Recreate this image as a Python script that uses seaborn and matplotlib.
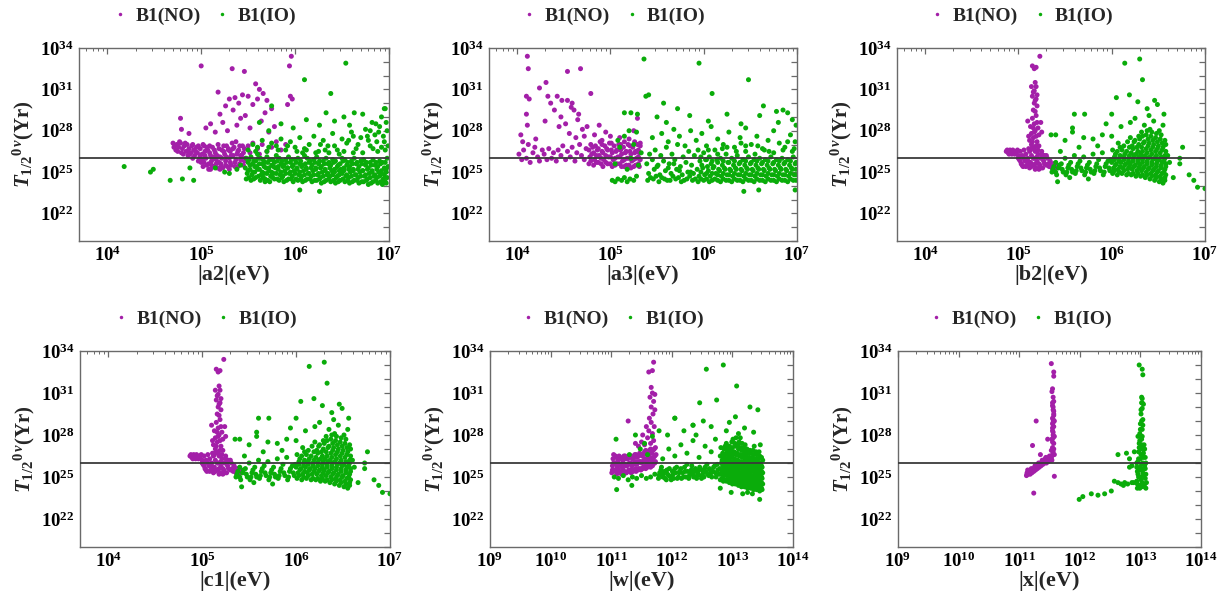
import numpy as np
import pandas as pd
import matplotlib
matplotlib.use("Agg")
import matplotlib.pyplot as plt
import seaborn as sns
from matplotlib.ticker import FixedLocator, FuncFormatter, NullFormatter
from matplotlib.lines import Line2D

# ---------------- data: (log10 parameter [eV], log10 T_1/2 [yr]) ----------------
series_labels = ["B1(NO)", "B1(IO)"]
x_labels = ["|a2|(eV)", "|a3|(eV)", "|b2|(eV)", "|c1|(eV)", "|w|(eV)", "|x|(eV)"]
y_tick_exps = [22, 25, 28, 31, 34]
x_tick_exps_low = [4, 5, 6, 7]
x_tick_exps_high = [9, 10, 11, 12, 13, 14]
t_limit = 1.07e26

a2_no = [
    (4.70,27.1),(4.72,26.9),(4.74,27.0),(4.73,26.6),(4.76,26.8),(4.78,27.1),(4.80,26.7),(4.79,26.4),(4.82,26.9),
    (4.84,26.5),(4.85,27.0),(4.87,26.7),(4.88,26.3),(4.90,26.9),(4.92,26.6),(4.93,26.2),(4.95,26.8),(4.96,26.4),
    (4.98,26.0),(4.99,26.7),(5.00,25.7),(5.01,26.3),(5.02,25.4),(5.03,26.9),(5.05,26.0),(5.06,25.5),(5.07,26.6),
    (5.08,25.2),(5.10,26.2),(5.11,25.8),(5.12,26.8),(5.13,25.4),(5.15,26.4),(5.16,25.9),(5.17,25.3),(5.18,27.0),
    (5.20,26.1),(5.21,25.6),(5.22,26.6),(5.23,25.3),(5.25,26.3),(5.26,25.8),(5.27,26.9),(5.28,25.4),(5.30,26.0),
    (5.31,26.5),(5.32,25.5),(5.34,26.2),(5.35,26.8),(5.36,25.7),(5.38,26.3),(5.39,25.4),(5.40,26.6),(5.42,25.9),
    (5.43,26.2),(5.45,25.5),(5.46,26.7),(5.47,26.0),(4.97,25.8),(5.04,26.5),(5.09,26.9),(5.14,26.1),(5.19,25.7),
    (5.24,26.9),(5.29,26.7),(5.33,27.1),(5.37,27.2),(5.41,26.9),(4.91,26.0),(4.86,26.2),(5.02,27.0),
    (5.50,26.9),(5.55,27.1),(5.60,26.7),(5.65,27.0),(5.70,26.5),(5.75,26.8),(5.80,27.2),(5.85,26.6),(5.90,27.0),
    (5.52,26.4),(5.62,26.3),
    (4.78,28.9),(4.79,28.1),(4.87,27.8),(5.00,32.7),(5.05,28.2),(5.10,28.5),(5.15,27.9),(5.18,30.8),(5.20,29.2),
    (5.23,28.6),(5.26,29.8),(5.28,28.0),(5.30,30.3),(5.33,32.5),(5.34,29.5),(5.36,30.4),(5.38,28.4),(5.40,30.0),
    (5.42,28.9),(5.44,30.6),(5.46,32.3),(5.47,29.1),(5.50,30.5),(5.52,28.2),(5.55,29.9),(5.58,31.4),(5.60,30.3),
    (5.62,31.0),(5.64,28.7),(5.66,30.7),(5.68,29.3),(5.70,30.2),(5.72,27.9),(5.75,29.6),(5.78,28.3),(5.92,29.9),
    (5.94,32.7),(5.96,33.4),(5.95,30.5),(5.97,30.3),
    (4.71,26.8),(4.75,26.5),(4.77,27.2),(4.81,26.3),(4.83,27.1),(4.86,26.5),(4.89,26.4),(4.91,27.0),(4.94,26.5),
    (4.97,26.9),(4.99,26.2),(5.01,25.9),(5.03,25.7),(5.04,26.2),(5.06,26.8),(5.08,25.6),(5.09,26.4),(5.11,25.5),
    (5.12,26.0),(5.14,26.6),(5.16,25.6),(5.17,26.2),(5.19,26.7),(5.21,25.4),(5.22,26.0),(5.24,26.5),(5.26,25.5),
    (5.27,26.1),(5.29,26.6),(5.31,25.7),(5.32,26.2),(5.34,26.7),(5.36,25.4),(5.37,25.9),(5.39,26.5),(5.41,25.6),
    (5.42,26.2),(5.44,26.9),(5.46,25.8),(5.45,26.4),(5.10,25.2),(5.20,25.2),(5.30,25.2),
]

a2_io = [
    (4.18,25.4),(4.46,25.0),(4.49,25.2),(4.67,24.4),(4.80,24.5),(4.92,24.4),(4.88,25.3),(5.15,25.3),(5.25,25.0),
    (5.30,24.9),(5.38,25.2),(5.42,25.5),
    (5.48,24.5),(5.49,24.9),(5.47,25.3),(5.50,25.7),(5.48,26.0),(5.53,24.4),(5.54,24.8),(5.52,25.2),(5.55,25.6),
    (5.53,26.1),(5.58,24.6),(5.57,25.0),(5.59,25.4),(5.58,25.8),(5.60,26.3),(5.63,24.4),(5.64,24.8),(5.62,25.2),
    (5.65,25.6),(5.63,26.0),(5.68,24.5),(5.67,24.9),(5.69,25.3),(5.68,25.7),(5.70,26.1),(5.73,24.3),(5.74,24.7),
    (5.72,25.1),(5.75,25.5),(5.73,25.9),(5.78,24.5),(5.77,24.9),(5.79,25.3),(5.78,25.7),(5.80,26.2),(5.83,24.4),
    (5.84,24.8),(5.82,25.2),(5.85,25.6),(5.83,26.0),(5.88,24.3),(5.87,24.7),(5.89,25.1),(5.88,25.5),(5.90,25.9),
    (5.93,24.5),(5.94,24.9),(5.92,25.3),(5.95,25.7),(5.93,26.1),(5.98,24.3),(5.97,24.7),(5.99,25.1),(5.98,25.5),
    (6.00,25.9),(6.03,24.4),(6.04,24.8),(6.02,25.2),(6.05,25.6),(6.03,26.0),(6.08,24.3),(6.07,24.7),(6.09,25.1),
    (6.08,25.5),(6.10,26.2),(6.13,24.5),(6.14,24.9),(6.12,25.3),(6.15,25.7),(6.13,26.0),(6.18,24.3),(6.17,24.7),
    (6.19,25.1),(6.18,25.5),(6.20,25.9),(6.23,24.4),(6.24,24.8),(6.22,25.2),(6.25,25.6),(6.23,26.1),(6.28,24.2),
    (6.27,24.6),(6.29,25.0),(6.28,25.4),(6.30,25.8),(6.33,24.4),(6.34,24.8),(6.32,25.2),(6.35,25.6),(6.33,26.0),
    (6.38,24.3),(6.37,24.7),(6.39,25.1),(6.38,25.5),(6.40,25.9),(6.43,24.2),(6.44,24.6),(6.42,25.0),(6.45,25.4),
    (6.43,25.8),(6.48,24.4),(6.47,24.8),(6.49,25.2),(6.48,25.6),(6.50,26.0),(6.53,24.3),(6.54,24.7),(6.52,25.1),
    (6.55,25.5),(6.53,25.9),(6.58,24.2),(6.57,24.6),(6.59,25.0),(6.58,25.4),(6.60,25.8),(6.63,24.4),(6.64,24.8),
    (6.62,25.2),(6.65,25.6),(6.63,26.0),(6.68,24.2),(6.67,24.6),(6.69,25.0),(6.68,25.4),(6.70,25.8),(6.73,24.3),
    (6.74,24.7),(6.72,25.1),(6.75,25.5),(6.73,25.9),(6.78,24.1),(6.77,24.5),(6.79,24.9),(6.78,25.3),(6.80,25.7),
    (6.83,24.3),(6.84,24.7),(6.82,25.1),(6.85,25.5),(6.83,25.9),(6.88,24.2),(6.87,24.6),(6.89,25.0),(6.88,25.4),
    (6.90,25.8),(6.93,24.1),(6.94,24.5),(6.92,24.9),(6.95,25.3),(6.93,25.7),(6.97,24.2),(6.98,24.6),(6.97,25.0),
    (6.99,25.4),(6.98,26.0),
    (5.51,24.6),(5.50,25.1),(5.52,25.5),(5.51,25.9),(5.56,24.5),(5.55,25.0),(5.57,25.4),(5.56,25.8),
    (5.61,24.7),(5.60,25.2),(5.62,25.6),(5.61,26.0),(5.66,24.6),(5.65,25.0),(5.67,25.4),(5.66,25.9),
    (5.71,24.4),(5.70,24.9),(5.72,25.3),(5.71,25.7),(5.76,24.6),(5.75,25.0),(5.77,25.4),(5.76,25.9),
    (5.81,24.5),(5.80,24.9),(5.82,25.4),(5.81,25.8),(5.86,24.6),(5.85,25.0),(5.87,25.4),(5.86,25.8),
    (5.91,24.4),(5.90,24.9),(5.92,25.3),(5.91,25.7),(5.96,24.5),(5.95,25.0),(5.97,25.4),(5.96,25.9),
    (6.01,24.5),(6.00,24.9),(6.02,25.3),(6.01,25.7),(6.06,24.5),(6.05,25.0),(6.07,25.4),(6.06,25.8),
    (6.11,24.4),(6.10,24.8),(6.12,25.2),(6.11,25.6),(6.16,24.5),(6.15,24.9),(6.17,25.3),(6.16,25.8),
    (6.21,24.4),(6.20,24.8),(6.22,25.3),(6.21,25.7),(6.26,24.5),(6.25,24.9),(6.27,25.3),(6.26,25.8),
    (6.31,24.3),(6.30,24.7),(6.32,25.1),(6.31,25.6),(6.36,24.5),(6.35,24.9),(6.37,25.3),(6.36,25.7),
    (6.41,24.4),(6.40,24.8),(6.42,25.2),(6.41,25.7),(6.46,24.3),(6.45,24.7),(6.47,25.1),(6.46,25.5),
    (6.51,24.5),(6.50,24.9),(6.52,25.3),(6.51,25.8),(6.56,24.4),(6.55,24.8),(6.57,25.2),(6.56,25.7),
    (6.61,24.3),(6.60,24.7),(6.62,25.1),(6.61,25.6),(6.66,24.4),(6.65,24.8),(6.67,25.2),(6.66,25.7),
    (6.71,24.3),(6.70,24.7),(6.72,25.1),(6.71,25.6),(6.76,24.4),(6.75,24.8),(6.77,25.2),(6.76,25.7),
    (6.81,24.2),(6.80,24.6),(6.82,25.0),(6.81,25.5),(6.86,24.4),(6.85,24.8),(6.87,25.2),(6.86,25.7),
    (6.91,24.3),(6.90,24.7),(6.92,25.1),(6.91,25.6),(6.96,24.3),(6.95,24.8),(6.97,25.2),(6.96,25.7),
    (5.50,26.6),(5.55,27.0),(5.60,26.8),(5.65,27.3),(5.70,26.5),(5.75,27.1),(5.80,26.9),(5.85,27.4),(5.90,26.6),
    (5.95,27.2),(6.00,26.8),(6.05,27.5),(6.10,26.7),(6.15,27.0),(6.20,27.6),(6.25,26.5),(6.30,27.3),(6.35,26.9),
    (6.40,27.8),(6.45,26.6),(6.50,27.4),(6.55,27.1),(6.60,27.9),(6.65,26.7),(6.70,27.5),(6.75,28.1),(6.80,26.9),
    (6.85,27.7),(6.90,28.3),(6.95,27.2),(6.98,28.0),(6.96,26.6),(6.88,26.5),(6.78,27.3),(6.62,26.4),(6.47,26.3),
    (6.36,26.4),(6.22,26.4),(6.08,26.4),
    (6.32,26.6),(6.42,26.9),(6.52,26.5),(6.57,27.3),(6.67,27.0),(6.72,26.4),(6.77,27.6),(6.83,26.7),(6.87,27.2),
    (6.92,26.8),(6.94,27.6),(6.99,26.9),(6.12,26.6),(6.02,26.5),(5.92,26.9),(5.82,26.6),(5.72,26.8),(5.58,26.5),
    (6.27,27.0),(6.62,27.6),(6.80,28.0),(6.97,28.6),(6.89,27.9),
    (5.62,28.6),(5.72,28.0),(5.85,28.5),(5.98,28.2),(6.12,28.8),(6.26,28.4),(6.33,29.3),(6.42,28.7),(6.52,29.0),
    (6.58,28.4),(6.72,29.2),(6.82,28.6),(6.92,29.0),(6.96,29.6),(6.86,28.5),(5.68,24.3),(6.05,23.7),(6.26,23.6),
    (5.75,29.8),(6.10,31.7),(6.38,30.7),(6.54,32.9),(6.63,29.3),(6.95,29.6),
]

a3_no = [
    (4.02,26.3),(4.05,25.9),(4.07,26.6),(4.10,26.0),(4.12,27.0),(4.14,25.7),(4.17,26.4),(4.19,26.8),(4.22,26.1),
    (4.24,25.8),(4.27,26.6),(4.29,26.3),(4.32,25.9),(4.34,26.7),(4.37,26.0),(4.39,26.4),(4.42,25.8),(4.44,26.6),
    (4.47,26.2),(4.49,26.9),(4.52,25.9),(4.54,26.5),(4.57,26.1),(4.59,26.8),(4.62,25.8),(4.64,26.4),(4.67,27.0),
    (4.69,26.2),(4.72,25.9),(4.74,26.7),
    (4.77,25.6),(4.78,26.1),(4.77,26.6),(4.79,27.0),(4.82,25.5),(4.83,25.9),(4.82,26.4),(4.84,26.9),(4.87,25.7),
    (4.88,26.2),(4.87,26.7),(4.89,27.2),(4.92,25.4),(4.93,25.9),(4.92,26.4),(4.94,26.9),(4.97,25.6),(4.98,26.1),
    (4.97,26.6),(4.99,27.1),(5.02,25.4),(5.03,25.9),(5.02,26.4),(5.04,26.9),(5.07,25.6),(5.08,26.1),(5.07,26.6),
    (5.09,27.0),(5.12,25.4),(5.13,25.8),(5.12,26.3),(5.14,26.8),(5.17,25.5),(5.18,26.0),(5.17,26.5),(5.19,27.0),
    (5.22,25.3),(5.23,25.8),(5.22,26.3),(5.24,26.8),(5.27,25.5),(5.28,26.0),(5.27,26.5),(5.29,27.0),(5.31,25.4),
    (5.32,25.9),(5.31,26.4),(5.32,26.9),
    (4.79,25.8),(4.80,26.3),(4.81,26.8),(4.85,25.7),(4.85,26.2),(4.86,26.6),(4.90,25.6),(4.90,26.0),(4.91,26.5),
    (4.91,27.0),(4.95,25.7),(4.95,26.2),(4.96,26.7),(5.00,25.6),(5.00,26.1),(5.01,26.6),(5.01,27.1),(5.05,25.5),
    (5.05,26.0),(5.06,26.5),(5.10,25.6),(5.10,26.1),(5.11,26.6),(5.11,27.0),(5.15,25.4),(5.15,25.9),(5.16,26.4),
    (5.20,25.5),(5.20,26.0),(5.21,26.5),(5.21,26.9),(5.25,25.4),(5.25,25.9),(5.26,26.4),(5.30,25.6),(5.30,26.1),
    (5.30,26.6),(5.32,27.1),(5.26,27.2),(5.15,27.2),
    (4.11,33.4),(4.12,32.5),(4.54,32.3),(4.68,32.5),(4.24,31.1),(4.31,31.5),(4.10,30.5),(4.13,30.3),(4.04,27.7),
    (4.10,29.2),(4.11,28.4),(4.33,30.5),(4.36,30.0),(4.43,30.5),(4.48,30.2),(4.54,30.2),(4.59,30.0),(4.40,29.5),
    (4.47,29.0),(4.52,28.5),(4.61,29.5),(4.65,28.8),(4.70,28.1),(4.75,28.3),(4.79,30.7),(4.91,27.3),(5.00,27.6),
    (5.29,28.9),(4.06,27.2),(4.20,27.4),(4.30,28.7),(4.45,28.3),(4.56,27.8),(4.63,27.5),(4.72,27.6),(4.83,27.7),
    (4.88,28.4),(4.95,27.9),(5.10,27.5),(5.20,27.4),(5.25,28.0),(4.58,29.7),(4.66,29.2),
]

a3_io = [
    (5.02,24.4),(5.05,24.3),(5.08,24.5),(5.12,24.4),(5.15,24.6),(5.18,24.3),(5.21,24.5),(5.25,24.4),(5.28,24.7),
    (5.05,25.6),(5.10,26.8),(5.15,27.6),(5.18,25.2),(5.22,26.0),(5.25,27.0),(5.30,25.5),(5.33,26.4),(5.20,28.0),
    (5.08,27.3),(5.28,27.9),
    (5.40,24.4),(5.41,24.9),(5.39,25.6),(5.42,26.3),(5.46,24.5),(5.47,25.2),(5.45,25.9),(5.48,26.6),(5.52,24.3),
    (5.53,24.8),(5.51,25.5),(5.54,26.2),(5.58,24.5),(5.59,25.1),(5.57,25.8),(5.60,26.8),(5.64,24.4),(5.65,24.9),
    (5.63,25.6),(5.66,26.3),(5.70,24.5),(5.71,25.2),(5.69,25.9),(5.72,27.0),(5.76,24.3),(5.77,24.8),(5.75,25.4),
    (5.78,26.1),(5.82,24.5),(5.83,25.0),(5.81,25.7),(5.84,26.5),(5.88,24.4),(5.89,24.9),(5.87,25.5),(5.90,26.2),
    (5.94,24.3),(5.95,24.7),(5.93,25.2),(5.96,25.8),(5.94,26.6),(6.00,24.4),(6.01,24.8),(5.99,25.3),(6.02,25.9),
    (6.00,26.4),(6.06,24.3),(6.07,24.7),(6.05,25.1),(6.08,25.6),(6.06,26.1),(6.12,24.5),(6.13,24.9),(6.11,25.4),
    (6.14,25.9),(6.12,26.6),(6.18,24.3),(6.19,24.7),(6.17,25.1),(6.20,25.5),(6.18,26.0),(6.24,24.4),(6.25,24.8),
    (6.23,25.2),(6.26,25.7),(6.24,26.3),(6.30,24.3),(6.31,24.7),(6.29,25.1),(6.32,25.5),(6.30,26.0),(6.36,24.4),
    (6.37,24.8),(6.35,25.2),(6.38,25.6),(6.36,26.2),(6.42,24.3),(6.43,24.7),(6.41,25.1),(6.44,25.5),(6.42,25.9),
    (6.48,24.4),(6.49,24.8),(6.47,25.2),(6.50,25.6),(6.48,26.1),(6.54,24.3),(6.55,24.7),(6.53,25.1),(6.56,25.5),
    (6.54,25.9),(6.60,24.4),(6.61,24.8),(6.59,25.2),(6.62,25.6),(6.60,26.0),(6.66,24.3),(6.67,24.7),(6.65,25.1),
    (6.68,25.5),(6.66,25.9),(6.72,24.4),(6.73,24.8),(6.71,25.2),(6.74,25.6),(6.72,26.1),(6.78,24.3),(6.79,24.7),
    (6.77,25.1),(6.80,25.5),(6.78,25.9),(6.84,24.4),(6.85,24.8),(6.83,25.2),(6.86,25.6),(6.84,26.0),(6.90,24.3),
    (6.91,24.7),(6.89,25.1),(6.92,25.5),(6.90,25.9),(6.96,24.4),(6.97,24.8),(6.95,25.2),(6.98,25.6),(6.96,26.1),
    (5.97,24.5),(5.97,25.0),(5.98,25.5),(5.97,26.1),(6.03,24.5),(6.03,24.9),(6.04,25.4),(6.03,25.9),
    (6.09,24.4),(6.09,24.9),(6.10,25.3),(6.09,25.8),(6.15,24.4),(6.15,24.8),(6.16,25.2),(6.15,25.7),
    (6.21,24.5),(6.21,24.9),(6.22,25.3),(6.21,25.8),(6.27,24.4),(6.27,24.8),(6.28,25.2),(6.27,25.7),
    (6.33,24.5),(6.33,24.9),(6.34,25.3),(6.33,25.8),(6.39,24.4),(6.39,24.8),(6.40,25.2),(6.39,25.7),
    (6.45,24.5),(6.45,24.9),(6.46,25.3),(6.45,25.8),(6.51,24.4),(6.51,24.8),(6.52,25.2),(6.51,25.7),
    (6.57,24.5),(6.57,24.9),(6.58,25.3),(6.57,25.8),(6.63,24.4),(6.63,24.8),(6.64,25.2),(6.63,25.7),
    (6.69,24.5),(6.69,24.9),(6.70,25.3),(6.69,25.8),(6.75,24.4),(6.75,24.8),(6.76,25.2),(6.75,25.7),
    (6.81,24.5),(6.81,24.9),(6.82,25.3),(6.81,25.8),(6.87,24.4),(6.87,24.8),(6.88,25.2),(6.87,25.7),
    (6.93,24.5),(6.93,24.9),(6.94,25.3),(6.93,25.8),(6.99,24.4),(6.99,24.8),(6.99,25.2),(6.99,25.7),
    (5.43,24.6),(5.49,24.7),(5.55,24.6),(5.61,24.4),(5.67,24.7),(5.73,24.6),(5.79,24.4),(5.85,24.7),(5.91,24.5),
    (5.50,25.4),(5.62,25.3),(5.74,25.1),(5.86,25.0),(5.68,25.6),
    (6.05,26.6),(6.15,26.3),(6.25,26.8),(6.35,26.5),(6.45,26.9),(6.55,26.3),(6.65,26.6),(6.75,26.4),(6.85,26.6),
    (6.95,26.5),(6.58,26.9),(6.40,27.1),(6.90,27.2),
    (5.45,27.5),(5.55,27.8),(5.62,27.2),(5.68,28.1),(5.74,27.6),(5.80,26.9),(5.86,28.0),(5.92,27.3),(5.98,27.8),
    (6.03,26.9),(6.08,28.3),(6.15,27.4),(6.21,27.0),(6.27,27.9),(6.33,26.8),(6.39,27.5),(6.45,28.2),(6.51,27.0),
    (6.57,27.6),(6.63,26.7),(6.69,27.3),(6.75,28.0),(6.81,27.1),(6.87,26.8),(6.93,27.7),(6.98,27.2),(6.99,28.4),
    (6.97,26.7),(6.70,26.5),(6.45,26.5),(6.20,26.7),
    (5.50,29.0),(5.60,28.6),(5.85,29.1),(6.05,28.7),(6.25,29.2),(6.40,28.5),(6.60,29.1),(6.80,28.6),(6.90,29.3),
    (6.95,28.8),
    (5.36,33.2),(5.95,32.9),(6.48,31.7),(6.09,30.7),(5.38,30.5),(5.41,30.6),(5.57,30.0),(5.72,29.6),(6.64,29.8),
    (6.85,29.5),(6.78,29.4),(5.15,29.3),(5.22,29.3),(5.29,29.2),(6.43,23.6),(6.59,23.7),(6.98,23.7),
]

b2_no = [
    (4.87,26.5),(4.89,26.4),(4.91,26.6),(4.93,26.3),(4.95,26.5),(4.97,26.4),(4.99,26.6),(5.00,26.2),(5.01,25.9),
    (5.02,26.5),(5.03,25.6),(5.04,26.2),(5.05,25.4),(5.06,26.6),(5.07,25.8),(5.08,26.3),(5.09,25.5),(5.10,26.0),
    (5.11,26.7),(5.12,25.3),(5.13,25.7),(5.14,26.2),(5.15,26.8),(5.16,25.5),(5.17,26.0),(5.18,26.5),(5.19,25.3),
    (5.20,25.8),(5.21,26.3),(5.22,26.9),(5.23,25.5),(5.24,26.0),(5.25,26.5),(5.26,25.3),(5.27,25.8),(5.28,26.2),
    (5.30,25.5),(5.31,26.0),(5.33,25.4),(5.34,25.8),(5.36,25.3),(5.37,25.6),(5.39,25.4),(5.41,25.5),(5.12,26.5),
    (5.08,25.9),(5.18,25.2),(5.22,25.2),(5.14,27.0),(5.19,26.9),
    (4.88,26.6),(4.90,26.3),(4.92,26.5),(4.94,26.6),(4.96,26.3),(4.98,26.5),(5.00,26.0),(5.02,25.8),(5.04,25.5),
    (5.06,26.0),(5.08,25.4),(5.10,25.8),(5.12,25.6),(5.14,25.4),(5.16,26.0),(5.18,25.6),(5.20,26.1),(5.22,25.6),
    (5.24,25.3),(5.26,26.0),(5.28,25.6),(5.30,26.2),(5.32,25.6),(5.35,25.5),(5.38,25.6),(5.40,25.3),(5.13,26.6),
    (5.17,26.7),(5.21,26.6),(5.25,26.3),
    (5.12,27.3),(5.16,27.5),(5.20,27.2),(5.14,27.8),(5.18,28.0),(5.22,27.7),(5.13,28.3),(5.17,28.5),(5.21,28.2),
    (5.15,28.9),(5.19,29.1),(5.16,29.5),(5.20,29.8),(5.18,30.2),(5.15,30.5),(5.20,30.6),(5.17,30.9),(5.14,31.2),
    (5.19,31.2),(5.17,32.5),(5.15,32.7),(5.19,32.6),(5.23,33.4),(5.10,28.7),(5.24,28.6),(5.25,27.9),(5.11,27.6),
    (5.15,27.2),(5.19,27.6),(5.17,27.9),(5.16,28.2),(5.20,28.6),(5.18,29.4),(5.17,30.0),(5.19,30.3),(5.16,30.8),
    (5.18,31.5),
]

b2_io = [
    (5.36,25.0),(5.38,25.4),(5.41,24.8),(5.43,25.3),(5.46,25.6),(5.48,25.0),(5.51,24.8),(5.53,25.3),(5.56,25.7),
    (5.58,25.0),(5.61,24.9),(5.63,25.4),(5.66,25.8),(5.68,25.1),(5.71,24.8),(5.73,25.3),(5.76,25.7),(5.78,25.0),
    (5.81,24.9),(5.83,25.4),(5.86,25.9),(5.88,25.1),(5.91,24.8),(5.93,25.4),(5.96,25.8),(5.98,25.1),(5.40,25.7),
    (5.50,26.0),(5.60,26.2),(5.70,26.1),(5.80,26.3),(5.90,26.4),(5.55,24.6),(5.75,24.5),(5.45,26.5),(5.65,26.8),
    (5.85,26.9),
    (5.37,25.2),(5.40,25.0),(5.44,25.5),(5.47,25.2),(5.52,25.0),(5.54,25.5),(5.57,25.2),(5.62,25.1),(5.64,25.6),
    (5.67,25.3),(5.72,25.0),(5.74,25.5),(5.77,25.2),(5.82,25.1),(5.84,25.6),(5.87,25.3),(5.92,25.0),(5.94,25.6),
    (5.97,25.3),(5.99,25.9),
    (6.01,24.9),(6.02,25.3),(6.00,25.7),(6.03,26.1),(6.01,26.6),(6.06,24.8),(6.07,25.2),(6.05,25.6),(6.08,26.0),
    (6.06,26.5),(6.07,27.1),(6.11,24.9),(6.12,25.3),(6.10,25.7),(6.13,26.1),(6.11,26.6),(6.16,24.8),(6.17,25.2),
    (6.15,25.6),(6.18,26.0),(6.16,26.5),(6.17,27.2),(6.21,24.8),(6.22,25.2),(6.20,25.6),(6.23,26.0),(6.21,26.4),
    (6.22,26.9),(6.20,27.5),(6.26,24.7),(6.27,25.1),(6.25,25.5),(6.28,25.9),(6.26,26.3),(6.27,26.8),(6.25,27.3),
    (6.31,24.7),(6.32,25.1),(6.30,25.5),(6.33,25.9),(6.31,26.3),(6.32,26.8),(6.30,27.4),(6.32,27.9),(6.36,24.6),
    (6.37,25.0),(6.35,25.4),(6.38,25.8),(6.36,26.2),(6.37,26.7),(6.35,27.2),(6.37,27.7),(6.41,24.5),(6.42,24.9),
    (6.40,25.3),(6.43,25.7),(6.41,26.1),(6.42,26.6),(6.40,27.1),(6.42,27.6),(6.41,28.1),(6.46,24.4),(6.47,24.8),
    (6.45,25.2),(6.48,25.6),(6.46,26.0),(6.47,26.5),(6.45,27.0),(6.47,27.5),(6.51,24.3),(6.52,24.7),(6.50,25.1),
    (6.53,25.5),(6.51,25.9),(6.52,26.4),(6.50,26.9),(6.52,27.4),(6.51,28.0),(6.55,24.2),(6.57,24.6),(6.56,25.0),
    (6.58,25.4),(6.56,25.8),(6.57,26.2),(6.55,26.8),(6.57,27.3),
    (6.03,25.1),(6.04,25.5),(6.03,25.9),(6.04,26.3),(6.08,25.0),(6.09,25.4),(6.08,25.8),(6.09,26.2),(6.09,26.8),
    (6.13,25.1),(6.14,25.5),(6.13,25.9),(6.14,26.3),(6.13,26.9),(6.18,24.9),(6.19,25.4),(6.18,25.8),(6.19,26.2),
    (6.19,26.8),(6.23,24.9),(6.24,25.4),(6.23,25.8),(6.24,26.2),(6.23,26.7),(6.24,27.2),(6.28,24.9),(6.29,25.3),
    (6.28,25.7),(6.29,26.1),(6.28,26.5),(6.29,27.0),(6.29,27.6),(6.33,24.8),(6.34,25.3),(6.33,25.7),(6.34,26.1),
    (6.33,26.5),(6.34,27.1),(6.33,27.6),(6.38,24.8),(6.39,25.2),(6.38,25.6),(6.39,26.0),(6.38,26.4),(6.39,26.9),
    (6.39,27.4),(6.38,28.0),(6.43,24.7),(6.44,25.1),(6.43,25.5),(6.44,25.9),(6.43,26.3),(6.44,26.8),(6.44,27.3),
    (6.43,27.9),(6.48,24.6),(6.49,25.0),(6.48,25.4),(6.49,25.8),(6.48,26.2),(6.49,26.7),(6.49,27.2),(6.48,27.8),
    (6.53,24.5),(6.54,24.9),(6.53,25.3),(6.54,25.7),(6.53,26.1),(6.54,26.6),(6.54,27.1),(6.53,27.7),(6.57,24.4),
    (6.58,24.8),(6.57,25.2),(6.58,25.6),(6.57,26.0),(6.58,26.5),(6.58,27.0),
    (6.14,32.9),(6.30,33.2),(6.33,31.7),(6.19,30.6),(6.05,30.4),(6.28,30.1),(6.46,30.2),(6.49,29.9),(6.38,29.6),
    (6.00,29.2),(5.71,29.2),(5.60,29.2),(6.56,29.2),(6.40,29.1),(6.25,28.9),(5.94,28.5),(5.58,28.2),(5.58,27.9),
    (5.35,27.7),(5.40,27.7),(6.76,26.8),(6.73,26.0),(6.73,25.6),(6.83,24.8),(6.88,24.4),(6.92,23.9),(7.00,23.8),
    (6.66,24.6),(5.42,24.3),(6.10,28.3),(6.20,28.6),(6.35,28.4),(6.45,28.7),(6.55,28.4),(6.00,27.6),(5.90,27.7),
    (5.80,27.4),(5.70,27.5),(5.50,27.3),(6.60,26.2),(6.62,25.7),
]

# the |c1| panel shows the same scan points as the |b2| panel
c1_no = list(b2_no)
c1_io = list(b2_io)

w_no = [
    (11.01,25.3),(11.02,25.8),(11.03,26.3),(11.05,25.5),(11.06,26.0),(11.07,26.5),(11.09,25.2),(11.10,25.7),
    (11.11,26.2),(11.13,25.4),(11.14,25.9),(11.15,26.4),(11.17,25.2),(11.18,25.7),(11.19,26.2),(11.21,25.4),
    (11.22,25.9),(11.23,26.5),(11.25,25.3),(11.26,25.8),(11.27,26.3),(11.29,25.5),(11.30,26.0),(11.31,26.5),
    (11.33,25.3),(11.34,25.8),(11.35,26.3),(11.37,25.5),(11.38,26.0),(11.39,26.6),(11.41,25.4),(11.42,25.9),
    (11.43,26.4),(11.45,25.6),(11.46,26.1),(11.47,26.7),(11.49,25.5),(11.50,26.0),(11.51,26.5),(11.53,25.7),
    (11.54,26.2),(11.55,26.8),(11.57,25.6),(11.58,26.1),(11.59,26.6),(11.61,25.8),(11.62,26.3),(11.63,26.9),
    (11.65,25.7),(11.66,26.2),(11.67,26.7),(11.69,25.9),(11.70,26.4),(11.71,27.0),(11.73,26.1),(11.74,26.6),
    (11.02,25.5),(11.04,26.0),(11.04,26.6),(11.08,25.4),(11.08,25.9),(11.09,26.4),(11.12,25.5),(11.12,26.0),
    (11.13,26.5),(11.16,25.3),(11.16,25.8),(11.17,26.3),(11.20,25.5),(11.20,26.0),(11.21,26.5),(11.24,25.3),
    (11.24,25.8),(11.25,26.3),(11.28,25.4),(11.28,25.9),(11.29,26.4),(11.32,25.5),(11.32,26.0),(11.33,26.5),
    (11.36,25.4),(11.36,25.9),(11.37,26.4),(11.40,25.6),(11.40,26.1),(11.41,26.6),(11.44,25.5),(11.44,26.0),
    (11.45,26.5),(11.48,25.6),(11.48,26.1),(11.49,26.6),(11.52,25.6),(11.52,26.1),(11.53,26.6),(11.56,25.8),
    (11.56,26.3),(11.57,26.9),(11.60,25.7),(11.60,26.2),(11.61,26.7),(11.64,25.9),(11.64,26.4),(11.65,27.0),
    (11.68,25.8),(11.68,26.3),(11.69,26.9),(11.72,26.0),(11.72,26.5),(11.73,27.1),
    (11.45,27.2),(11.50,27.5),(11.55,27.3),(11.60,27.8),(11.65,27.4),(11.70,27.6),(11.52,28.0),(11.62,28.3),
    (11.68,28.1),(11.58,28.6),(11.66,28.9),(11.71,28.6),(11.63,29.2),(11.69,29.5),(11.72,29.8),(11.66,30.0),
    (11.70,30.4),(11.64,30.7),(11.68,31.0),(11.72,30.9),(11.66,31.4),(11.62,32.5),(11.68,32.6),(11.70,33.2),
    (11.28,29.0),(11.40,27.4),
]

w_io = [
    (11.05,25.0),(11.12,24.9),(11.20,25.1),(11.28,24.8),(11.35,25.0),(11.42,24.9),(11.50,25.1),(11.58,24.9),
    (11.65,25.0),(11.72,25.2),(11.08,27.7),(11.30,26.6),(11.48,27.0),(11.60,26.6),(11.40,28.0),(11.55,27.4),
    (11.09,24.1),(11.34,24.4),
    (11.78,24.9),(11.80,25.3),(11.83,25.7),(11.85,25.0),(11.88,25.4),(11.91,24.8),(11.93,25.2),(11.96,25.6),
    (11.98,25.0),(12.01,25.4),(12.03,24.9),(12.06,25.3),(12.08,25.7),(12.11,25.0),(12.13,25.4),(12.16,24.9),
    (12.18,25.3),(12.21,25.7),(12.23,25.0),(12.26,25.4),(12.28,24.9),(12.31,25.3),(12.33,25.8),(12.36,25.0),
    (12.38,25.4),(12.41,24.9),(12.43,25.3),(12.46,25.7),(12.48,25.1),(12.51,25.5),(12.53,25.0),(12.56,25.4),
    (12.58,25.9),(12.61,25.1),(12.63,25.5),(12.66,25.0),(12.68,25.4),(12.71,25.8),(12.73,25.0),(12.76,25.5),
    (11.79,25.1),(11.82,25.5),(11.86,25.2),(11.89,24.9),(11.92,25.5),(11.95,25.1),(11.99,24.8),(12.02,25.2),
    (12.05,25.6),(12.09,24.9),(12.12,25.3),(12.15,25.6),(12.19,25.0),(12.22,25.4),(12.25,25.9),(12.29,25.1),
    (12.32,25.5),(12.35,25.2),(12.39,25.6),(12.42,25.1),(12.45,25.5),(12.49,24.9),(12.52,25.3),(12.55,25.7),
    (12.59,25.2),(12.62,25.6),(12.65,25.3),(12.69,25.7),(12.72,25.3),(12.75,25.9),(12.78,25.2),
    (11.85,26.3),(11.95,27.0),(12.05,26.5),(12.15,27.3),(12.25,26.7),(12.35,27.6),(12.45,26.4),(12.55,27.2),
    (12.65,26.8),(12.72,27.7),(12.40,28.0),(12.20,28.3),(12.05,29.2),(12.35,28.7),(12.46,30.3),(11.68,27.9),
    (11.79,28.3),(11.93,28.0),
    (12.80,24.8),(12.81,25.2),(12.79,25.6),(12.82,26.0),(12.80,26.5),(12.81,27.1),(12.85,24.7),(12.86,25.1),
    (12.84,25.5),(12.87,25.9),(12.85,26.4),(12.86,27.0),(12.90,24.7),(12.91,25.1),(12.89,25.5),(12.92,25.9),
    (12.90,26.3),(12.91,26.8),(12.90,27.4),(12.95,24.6),(12.96,25.0),(12.94,25.4),(12.97,25.8),(12.95,26.2),
    (12.96,26.7),(12.95,27.2),(13.00,24.5),(13.01,24.9),(12.99,25.3),(13.02,25.7),(13.00,26.1),(13.01,26.6),
    (13.00,27.1),(13.01,27.7),(13.05,24.5),(13.06,24.9),(13.04,25.3),(13.07,25.7),(13.05,26.1),(13.06,26.6),
    (13.05,27.2),(13.06,27.8),(13.10,24.4),(13.11,24.8),(13.09,25.2),(13.12,25.6),(13.10,26.0),(13.11,26.5),
    (13.10,27.0),(13.11,27.5),(13.10,28.1),(13.15,24.3),(13.16,24.7),(13.14,25.1),(13.17,25.5),(13.15,25.9),
    (13.16,26.4),(13.15,26.9),(13.16,27.4),(13.20,24.3),(13.21,24.7),(13.19,25.1),(13.22,25.5),(13.20,25.9),
    (13.21,26.3),(13.20,26.8),(13.21,27.3),(13.25,24.2),(13.26,24.6),(13.24,25.0),(13.27,25.4),(13.25,25.8),
    (13.26,26.2),(13.25,26.7),(13.30,24.2),(13.31,24.6),(13.29,25.0),(13.32,25.4),(13.30,25.8),(13.31,26.2),
    (13.30,26.7),(13.35,24.1),(13.36,24.5),(13.34,24.9),(13.37,25.3),(13.35,25.7),(13.36,26.1),(13.35,26.6),
    (13.36,27.2),(13.40,24.1),(13.41,24.5),(13.39,24.9),(13.42,25.3),(13.40,25.7),(13.41,26.1),(13.40,26.6),
    (13.45,24.0),(13.46,24.4),(13.44,24.8),(13.47,25.2),(13.45,25.6),(13.46,26.0),(13.45,26.5),(13.46,27.3),
    (13.49,24.1),(13.50,24.5),(13.49,24.9),(13.50,25.3),(13.49,25.7),(13.50,26.2),
    (12.83,24.9),(12.83,25.4),(12.84,25.8),(12.83,26.2),(12.84,26.7),(12.88,24.8),(12.88,25.3),(12.89,25.7),
    (12.88,26.1),(12.89,26.6),(12.88,27.2),(12.93,24.8),(12.93,25.2),(12.94,25.6),(12.93,26.0),(12.94,26.5),
    (12.93,27.0),(12.98,24.7),(12.98,25.1),(12.99,25.5),(12.98,25.9),(12.99,26.4),(12.98,26.9),(12.99,27.5),
    (13.03,24.7),(13.03,25.1),(13.04,25.5),(13.03,25.9),(13.04,26.3),(13.03,26.8),(13.04,27.4),(13.08,24.6),
    (13.08,25.0),(13.09,25.4),(13.08,25.8),(13.09,26.2),(13.08,26.7),(13.09,27.3),(13.13,24.5),(13.13,24.9),
    (13.14,25.3),(13.13,25.7),(13.14,26.1),(13.13,26.6),(13.14,27.1),(13.13,27.8),(13.18,24.5),(13.18,24.9),
    (13.19,25.3),(13.18,25.7),(13.19,26.1),(13.18,26.6),(13.19,27.1),(13.23,24.4),(13.23,24.8),(13.24,25.2),
    (13.23,25.6),(13.24,26.0),(13.23,26.5),(13.24,27.0),(13.28,24.4),(13.28,24.8),(13.29,25.2),(13.28,25.6),
    (13.29,26.0),(13.28,26.4),(13.29,26.9),(13.33,24.3),(13.33,24.7),(13.34,25.1),(13.33,25.5),(13.34,25.9),
    (13.33,26.4),(13.34,26.9),(13.38,24.3),(13.38,24.7),(13.39,25.1),(13.38,25.5),(13.39,25.9),(13.38,26.3),
    (13.39,26.8),(13.43,24.2),(13.43,24.6),(13.44,25.0),(13.43,25.4),(13.44,25.8),(13.43,26.3),(13.44,26.8),
    (13.48,24.2),(13.48,24.6),(13.48,25.0),(13.48,25.4),(13.48,25.8),(13.48,26.4),
    (12.57,32.7),(12.85,33.0),(13.07,31.5),(12.74,30.5),(13.42,29.8),(13.29,30.0),(12.05,29.2),(12.35,28.7),
    (12.52,29.0),(12.65,28.6),(12.95,28.9),(13.20,28.5),(13.35,28.2),(13.05,29.3),(12.90,28.3),(13.17,23.8),
    (13.45,23.4),(13.33,23.8),(13.25,23.9),(12.98,23.9),(12.80,24.2),
]

x_no = [
    (11.12,25.1),(11.13,25.3),(11.15,25.2),(11.16,25.4),(11.18,25.2),(11.19,25.4),(11.21,25.3),(11.22,25.5),
    (11.24,25.4),(11.25,25.6),(11.27,25.5),(11.28,25.7),(11.30,25.6),(11.31,25.8),(11.33,25.7),(11.34,25.9),
    (11.36,25.8),(11.37,26.0),(11.39,25.9),(11.40,26.1),(11.42,26.0),(11.43,26.2),(11.45,26.0),(11.46,26.2),
    (11.48,26.1),(11.49,26.3),(11.51,26.2),(11.52,26.4),(11.14,25.5),(11.20,25.6),(11.26,25.8),(11.32,26.0),
    (11.38,26.2),(11.44,26.4),(11.50,26.5),
    (11.13,25.2),(11.15,25.35),(11.17,25.3),(11.19,25.5),(11.21,25.45),(11.23,25.6),(11.25,25.5),(11.27,25.7),
    (11.29,25.65),(11.31,25.9),(11.33,25.85),(11.35,26.0),(11.37,25.95),(11.39,26.15),(11.41,26.05),(11.43,26.3),
    (11.45,26.15),(11.47,26.35),(11.49,26.2),(11.51,26.4),(11.53,26.3),(11.55,26.6),
    (11.54,26.5),(11.56,26.8),(11.55,27.1),(11.57,27.4),(11.54,27.7),(11.56,28.0),(11.55,28.3),(11.57,28.6),
    (11.56,28.9),(11.55,29.2),(11.57,29.5),(11.56,29.8),(11.55,30.1),(11.57,30.4),(11.56,30.7),(11.54,31.1),
    (11.53,33.1),(11.57,32.5),(11.57,32.2),(11.55,31.3),(11.58,26.6),(11.58,27.9),(11.58,29.0),(11.53,26.9),
    (11.55,27.5),(11.56,28.2),(11.55,28.8),(11.57,29.4),(11.56,30.0),(11.54,26.2),(11.57,27.0),(11.56,27.8),
    (11.55,28.5),(11.56,29.1),(11.57,29.7),(11.55,30.3),
    (11.22,27.25),(11.28,29.0),(11.47,27.7),(11.35,26.6),(11.58,25.05),(11.24,23.85),
]

x_io = [
    (12.95,24.2),(12.98,24.4),(13.02,24.3),(13.06,24.5),(13.09,24.2),(12.94,24.7),(12.97,25.0),(13.01,24.8),
    (13.05,25.1),(13.08,24.9),(12.95,25.4),(12.99,25.7),(13.03,25.5),(13.07,25.8),(12.96,26.1),(13.00,26.3),
    (13.04,26.0),(13.08,26.4),(12.97,26.8),(13.01,27.0),(13.05,26.7),(12.98,27.4),(13.02,27.7),(13.06,27.3),
    (12.99,28.1),(13.03,28.4),(13.00,28.8),(13.04,29.1),(13.01,29.5),(13.03,29.9),(13.02,30.3),(13.03,30.6),
    (12.95,24.5),(12.99,24.2),(13.03,24.6),(13.07,24.3),(13.10,24.6),(12.96,25.2),(13.00,25.0),(13.04,25.3),
    (13.09,25.2),(12.94,25.7),(12.98,25.5),(13.02,25.9),(13.06,25.6),(12.97,26.3),(13.01,26.6),(13.05,26.4),
    (13.09,26.0),(12.98,27.1),(13.02,27.3),(13.06,27.0),(12.99,27.6),(13.03,27.9),(13.00,28.4),(13.04,28.7),
    (13.02,29.0),(13.01,29.8),(13.03,30.3),(13.02,30.7),
    (12.98,33.0),(13.03,32.7),(13.04,32.3),(13.05,30.2),(12.96,27.9),(13.07,27.0),(13.08,25.6),(12.94,26.0),
    (11.99,23.4),(12.05,23.6),(12.19,23.8),(12.30,23.7),(12.41,23.8),(12.52,24.0),(12.63,24.6),(12.68,24.5),
    (12.74,24.6),(12.79,24.5),(12.63,26.6),(12.77,26.7),(12.82,26.3),(12.82,25.7),(12.86,24.6),(12.89,24.6),
    (12.86,25.8),(12.90,26.8),(12.72,24.4),(12.57,24.7),
]

# ---------------- styling ----------------
sns.set_theme(style="white")
plt.rcParams["font.family"] = ["Liberation Serif", "DejaVu Serif"]
plt.rcParams["font.weight"] = "bold"
plt.rcParams["mathtext.fontset"] = "custom"
plt.rcParams["mathtext.rm"] = "Liberation Serif:bold"
plt.rcParams["mathtext.it"] = "Liberation Serif:italic:bold"
plt.rcParams["mathtext.bf"] = "Liberation Serif:bold"

c_no = "#a31fa8"
c_io = "#0aac0a"
frame_c = "#6a6a6a"

fig = plt.figure(figsize=(12.28, 6.04), dpi=100)
W, H = 1228.0, 604.0

# (left px, top px, width px, height px)
boxes = [
    (79, 48, 310, 193), (489, 48, 308, 193), (897, 48, 308, 193),
    (80, 351, 310, 196), (490, 351, 303, 196), (898, 351, 303, 196),
]
panel_data = [(a2_no, a2_io), (a3_no, a3_io), (b2_no, b2_io),
              (c1_no, c1_io), (w_no, w_io), (x_no, x_io)]
low_range = (5e3, 1e7)
high_range = (1e9, 1e14)

def to_frame(no_pts, io_pts):
    rows = []
    for lab, pts in zip(series_labels, (no_pts, io_pts)):
        for lx, ly in pts:
            rows.append({"x": 10 ** lx, "y": 10 ** ly, "series": lab})
    return pd.DataFrame(rows)

for i, ((l, t, w, h), (no_pts, io_pts), xl) in enumerate(zip(boxes, panel_data, x_labels)):
    ax = fig.add_axes([l / W, (H - t - h) / H, w / W, h / H])
    df = to_frame(no_pts, io_pts)
    sns.scatterplot(data=df, x="x", y="y", hue="series", hue_order=series_labels,
                    palette={series_labels[0]: c_no, series_labels[1]: c_io},
                    s=13, linewidth=0, alpha=1.0, legend=False, ax=ax, zorder=2)
    ax.axhline(t_limit, color="#3a3a3a", lw=1.3, zorder=3)
    ax.set_xscale("log")
    ax.set_yscale("log")
    high = i >= 4
    xr = high_range if high else low_range
    xexps = x_tick_exps_high if high else x_tick_exps_low
    ax.set_xlim(*xr)
    ax.set_ylim(1e20, 1e34)

    ax.xaxis.set_major_locator(FixedLocator([10.0 ** e for e in xexps]))
    minors = [m * 10.0 ** e for e in range(3, 15) for m in range(2, 10)]
    ax.xaxis.set_minor_locator(FixedLocator(minors))
    ax.xaxis.set_major_formatter(FuncFormatter(lambda v, p: r"$10^{%d}$" % round(np.log10(v))))
    ax.xaxis.set_minor_formatter(NullFormatter())
    ax.yaxis.set_major_locator(FixedLocator([10.0 ** e for e in range(20, 35)]))
    ax.yaxis.set_minor_locator(FixedLocator([]))
    ax.yaxis.set_major_formatter(FuncFormatter(
        lambda v, p: (r"$10^{%d}$" % round(np.log10(v))) if round(np.log10(v)) in y_tick_exps else ""))

    ax.tick_params(axis="both", which="both", direction="in", top=True, right=True,
                   colors=frame_c, labelcolor="black", labelsize=13.5)
    ax.tick_params(axis="both", which="major", length=4, width=0.9)
    ax.tick_params(axis="x", which="minor", length=2.2, width=0.7)
    ax.tick_params(axis="x", which="major", pad=3)
    ax.tick_params(axis="y", which="major", pad=4)
    for sp in ax.spines.values():
        sp.set_color(frame_c)
        sp.set_linewidth(1.0)
    ax.set_facecolor("white")

    ax.set_xlabel(xl, fontsize=16, fontweight="bold", labelpad=0)
    ax.set_ylabel(r"$T_{1/2}{}^{0\,\nu}$(Yr)", fontsize=15, fontweight="bold")
    ax.yaxis.set_label_coords(-43.0 / w, 0.5)

    handles = [Line2D([], [], ls="none", marker="o", ms=2.5, color=c_no, mec="none"),
               Line2D([], [], ls="none", marker="o", ms=2.5, color=c_io, mec="none")]
    ax.legend(handles, series_labels, loc="center", bbox_to_anchor=(0.411, 1.0 + 32.0 / h), ncol=2,
              frameon=False, prop={"family": "Liberation Serif", "weight": "bold", "size": 14},
              handletextpad=0.6, columnspacing=0.9, handlelength=0.4, borderaxespad=0)

fig.savefig("out.png", dpi=100, facecolor="white")
